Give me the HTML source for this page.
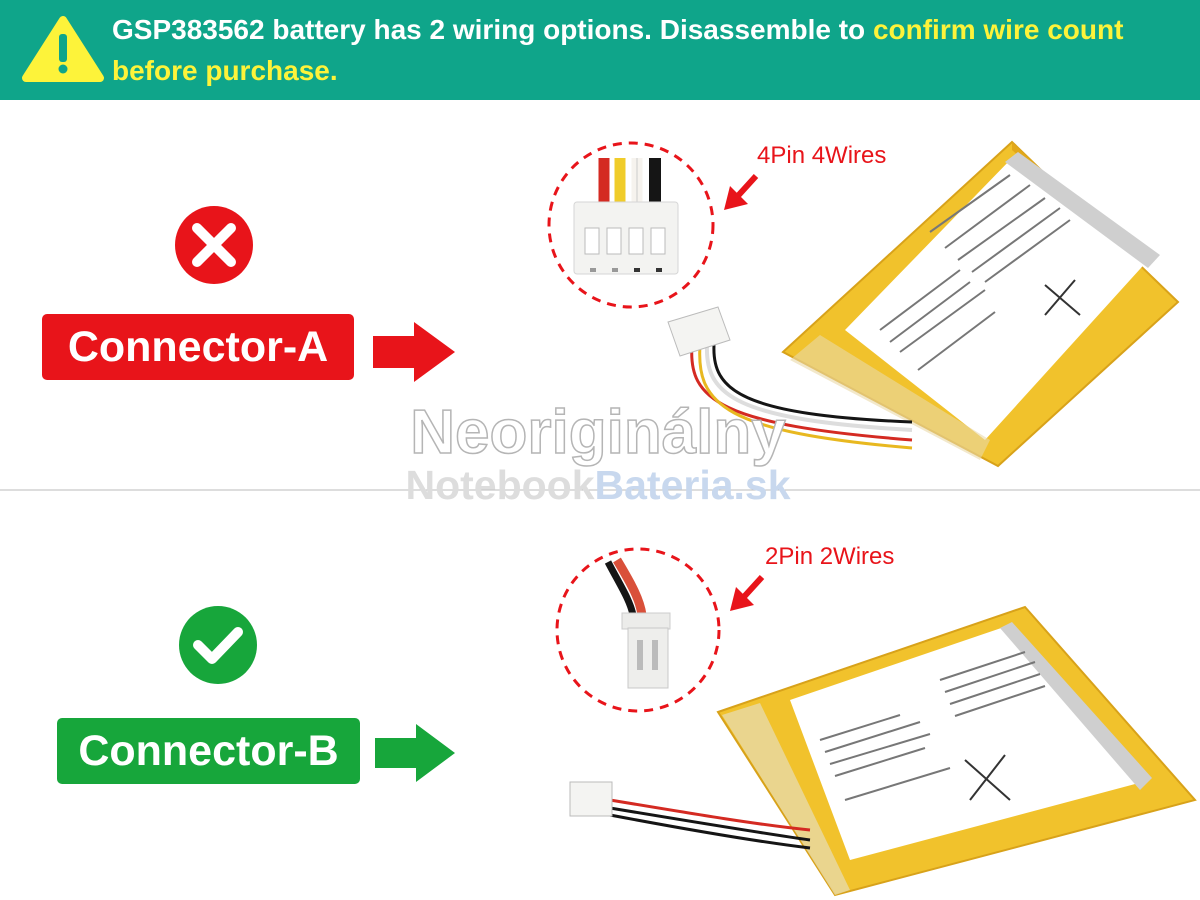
<!DOCTYPE html>
<html><head><meta charset="utf-8"><style>
body{margin:0;width:1200px;height:900px;background:#fff;position:relative;overflow:hidden;font-family:"Liberation Sans",Arial,sans-serif}
.hdr{position:absolute;left:0;top:0;width:1200px;height:100px;background:#0fa58a}
.htxt{position:absolute;left:112px;top:9px;width:1080px;color:#fff;font-weight:bold;font-size:28px;line-height:41px;white-space:nowrap}
.y{color:#fdf33a}
.box{position:absolute;color:#fff;font-weight:bold;font-size:43px;text-align:center;border-radius:5px}
.lbl{position:absolute;color:#e8141a;font-size:24px}
svg{position:absolute;left:0;top:0}
</style></head><body>
<div class="hdr"></div>
<div class="htxt">GSP383562 battery has 2 wiring options. Disassemble to <span class="y">confirm wire count<br>before purchase.</span></div>
<svg width="1200" height="900">
<polygon points="63,20 100,78 26,78" fill="#fdf33a" stroke="#fdf33a" stroke-width="8" stroke-linejoin="round"/>
<rect x="59" y="34" width="8" height="28" rx="3" fill="#0fa58a"/><circle cx="63" cy="69" r="4.5" fill="#0fa58a"/>
<line x1="0" y1="490" x2="1200" y2="490" stroke="#bbb" stroke-width="1"/>
<circle cx="214" cy="245" r="39" fill="#e8141a"/>
<path d="M197 228 L231 262 M231 228 L197 262" stroke="#fff" stroke-width="10" stroke-linecap="round"/>
<circle cx="218" cy="645" r="39" fill="#17a63b"/>
<path d="M198 645 L212 659 L238 632" stroke="#fff" stroke-width="10" fill="none" stroke-linecap="round" stroke-linejoin="round"/>
<polygon points="373,336 414,336 414,322 455,352 414,382 414,368 373,368" fill="#e8141a"/>
<polygon points="375,738 416,738 416,724 455,753 416,782 416,768 375,768" fill="#17a63b"/>

<circle cx="631" cy="225" r="82" fill="none" stroke="#e8141a" stroke-width="3" stroke-dasharray="9,7"/>
<path d="M604 158 V205" stroke="#d42a22" stroke-width="11"/>
<path d="M620 158 V205" stroke="#f0cc2a" stroke-width="11"/>
<path d="M637 158 V205" stroke="#f6f3ee" stroke-width="11"/>
<path d="M637 158 V205" stroke="#ccc" stroke-width="1" fill="none"/>
<path d="M655 158 V205" stroke="#151515" stroke-width="12"/>
<rect x="574" y="202" width="104" height="72" rx="3" fill="#f3f3f1" stroke="#d6d6d6"/>
<g fill="#fff" stroke="#bbb"><rect x="585" y="228" width="14" height="26"/><rect x="607" y="228" width="14" height="26"/><rect x="629" y="228" width="14" height="26"/><rect x="651" y="228" width="14" height="26"/></g>
<g fill="#999"><rect x="590" y="268" width="6" height="4"/><rect x="612" y="268" width="6" height="4"/><rect x="634" y="268" width="6" height="4" fill="#333"/><rect x="656" y="268" width="6" height="4" fill="#333"/></g>

<circle cx="638" cy="630" r="81" fill="none" stroke="#e8141a" stroke-width="3" stroke-dasharray="9,7"/>
<path d="M608 562 C620 585 630 600 633 615" stroke="#151515" stroke-width="7" fill="none"/>
<path d="M617 560 C632 585 640 600 642 615" stroke="#d9503a" stroke-width="9" fill="none"/>
<rect x="622" y="613" width="48" height="16" fill="#ececea" stroke="#ccc"/>
<rect x="628" y="628" width="40" height="60" fill="#eeeeec" stroke="#c8c8c8"/>
<rect x="637" y="640" width="6" height="30" fill="#bbb"/><rect x="652" y="640" width="6" height="30" fill="#bbb"/>

<path d="M756 176 L736 198" stroke="#e8141a" stroke-width="6"/>
<polygon points="724,210 730,186 748,204" fill="#e8141a"/>
<path d="M762 577 L742 599" stroke="#e8141a" stroke-width="6"/>
<polygon points="730,611 736,587 754,605" fill="#e8141a"/>

<polygon points="783,352 1012,142 1178,302 998,466" fill="#f1c22c" stroke="#d8a21a" stroke-width="2"/>
<polygon points="1012,142 1178,302 1168,292 1012,150" fill="#e2a81a"/>
<polygon points="845,330 1012,158 1150,258 985,440" fill="#fff"/>
<polygon points="1005,162 1018,152 1160,255 1148,268" fill="#cfcfcf"/>
<polygon points="790,360 820,335 990,440 980,460" fill="#e9d9a8" opacity="0.6"/>
<g stroke="#777" stroke-width="2">
<path d="M930 232 L1010 175 M945 248 L1030 185 M958 260 L1045 198 M972 272 L1060 208 M985 282 L1070 220"/>
<path d="M880 330 L960 270 M890 342 L970 282 M900 352 L985 290 M918 370 L995 312"/>
</g>
<path d="M1045 285 L1080 315 M1075 280 L1045 315" stroke="#333" stroke-width="2"/>
<path d="M692 345 C688 400 720 425 912 440" stroke="#d42a22" stroke-width="3" fill="none"/>
<path d="M700 345 C696 405 725 432 912 448" stroke="#e8b820" stroke-width="3" fill="none"/>
<path d="M707 345 C705 395 735 420 912 430" stroke="#ddd" stroke-width="4" fill="none"/>
<path d="M714 345 C712 390 740 415 912 422" stroke="#151515" stroke-width="3" fill="none"/>
<polygon points="668,322 718,307 730,340 680,356" fill="#f4f4f2" stroke="#bbb"/>

<polygon points="718,712 1025,607 1195,800 835,895" fill="#f1c22c" stroke="#d8a21a" stroke-width="2"/>
<polygon points="790,700 1010,625 1150,780 850,860" fill="#fff"/>
<polygon points="1000,628 1012,622 1152,778 1140,790" fill="#cfcfcf"/>
<polygon points="722,715 760,703 850,890 835,895" fill="#e9d9a8" opacity="0.8"/>
<g stroke="#777" stroke-width="2">
<path d="M820 740 L900 715 M825 752 L920 722 M830 764 L930 734 M835 776 L925 748 M845 800 L950 768"/>
<path d="M940 680 L1025 652 M945 692 L1035 662 M950 704 L1040 674 M955 716 L1045 686"/>
</g>
<path d="M965 760 L1010 800 M1005 755 L970 800" stroke="#333" stroke-width="2"/>
<path d="M610 800 C700 815 760 825 810 830" stroke="#d42a22" stroke-width="3" fill="none"/>
<path d="M610 808 C700 823 760 833 810 840" stroke="#151515" stroke-width="3" fill="none"/>
<path d="M610 815 C700 832 760 842 810 848" stroke="#151515" stroke-width="3" fill="none"/>
<rect x="570" y="782" width="42" height="34" fill="#f4f4f2" stroke="#bbb"/>

<text x="598" y="453" font-family="Liberation Sans" font-weight="bold" font-size="62" fill="#fff" stroke="#b5b5b5" stroke-width="1.5" text-anchor="middle">Neoriginálny</text>
<text x="598" y="499" font-family="Liberation Sans" font-weight="bold" font-size="41" fill="#ddd" text-anchor="middle">Notebook<tspan fill="#c8d8ee">Bateria.sk</tspan></text>
</svg>
<div class="lbl" style="left:757px;top:142px">4Pin 4Wires</div>
<div class="lbl" style="left:765px;top:543px">2Pin 2Wires</div>
<div class="box" style="left:42px;top:314px;width:312px;height:66px;line-height:66px;background:#e8141a">Connector-A</div>
<div class="box" style="left:57px;top:718px;width:303px;height:66px;line-height:66px;background:#17a63b">Connector-B</div>
</body></html>
